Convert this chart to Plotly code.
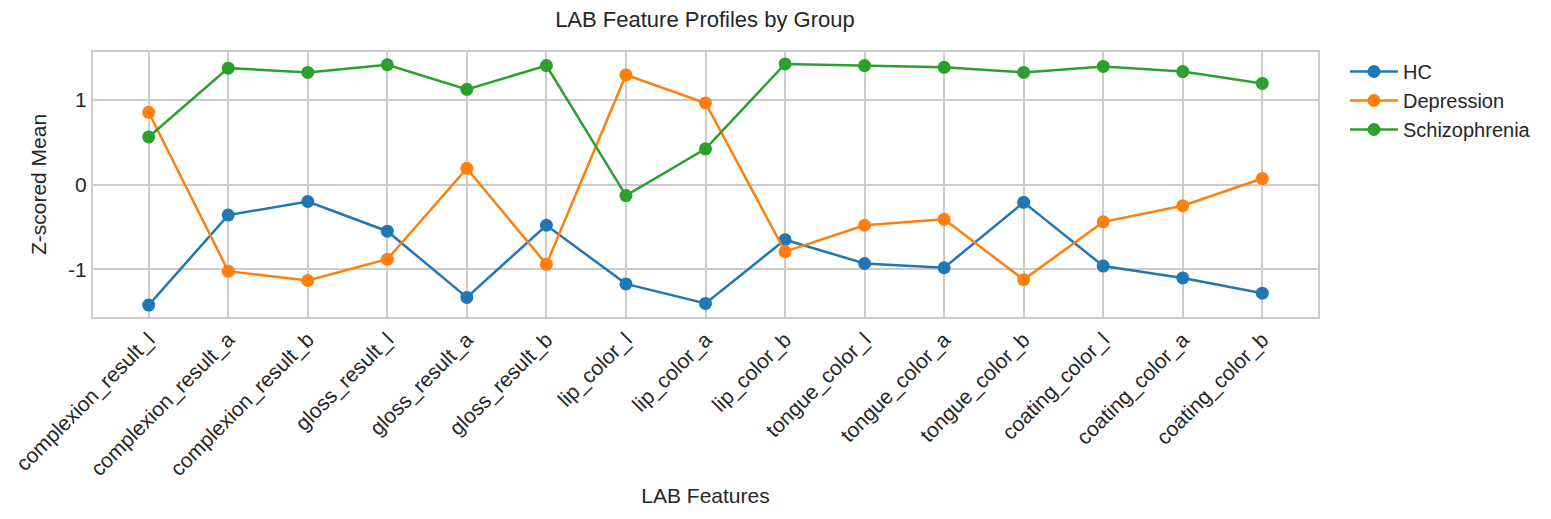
import plotly.graph_objects as go

# --- data ---
features = ['complexion_result_l', 'complexion_result_a', 'complexion_result_b',
            'gloss_result_l', 'gloss_result_a', 'gloss_result_b',
            'lip_color_l', 'lip_color_a', 'lip_color_b',
            'tongue_color_l', 'tongue_color_a', 'tongue_color_b',
            'coating_color_l', 'coating_color_a', 'coating_color_b']

hc = [-1.42, -0.36, -0.20, -0.55, -1.33, -0.48, -1.17, -1.40, -0.65,
      -0.93, -0.98, -0.21, -0.96, -1.10, -1.28]
depression = [0.85, -1.02, -1.13, -0.88, 0.19, -0.94, 1.29, 0.96, -0.79,
              -0.48, -0.41, -1.12, -0.44, -0.25, 0.07]
schizophrenia = [0.56, 1.37, 1.32, 1.41, 1.12, 1.40, -0.13, 0.42, 1.42,
                 1.40, 1.38, 1.32, 1.39, 1.33, 1.19]

groups = ['HC', 'Depression', 'Schizophrenia']
colors = ['#1f77b4', '#ff7f0e', '#2ca02c']
y_ticks = [-1, 0, 1]
y_tick_labels = ['-1', '0', '1']

FONT = 'Liberation Sans, Arial, sans-serif'
TEXT = '#262626'
GRID = '#cccccc'

fig = go.Figure()
for name, vals, col in zip(groups, [hc, depression, schizophrenia], colors):
    fig.add_trace(go.Scatter(
        x=list(range(len(features))), y=vals, name=name, mode='lines+markers',
        line=dict(color=col, width=2.5),
        marker=dict(color=col, size=13),
    ))

axis_style = dict(showline=True, linewidth=2, linecolor=GRID, mirror=True,
                  showgrid=True, gridwidth=1.5, gridcolor=GRID, zeroline=False,
                  ticks='', tickfont=dict(size=21, color=TEXT))

fig.update_layout(
    width=1551, height=519,
    paper_bgcolor='white', plot_bgcolor='white',
    font=dict(family=FONT, color=TEXT),
    margin=dict(l=93, r=233, t=52, b=202),
    title=dict(text='LAB Feature Profiles by Group', x=0.4545, xanchor='center',
               y=0.962, yanchor='middle', font=dict(size=22, color=TEXT)),
    xaxis=dict(axis_style, tickmode='array', tickvals=list(range(len(features))),
               ticktext=features, tickangle=-45, range=[-0.7, 14.7], automargin=False,
               title=dict(text='LAB Features', font=dict(size=21, color=TEXT), standoff=8)),
    yaxis=dict(axis_style, tickmode='array', tickvals=y_ticks, ticktext=y_tick_labels,
               range=[-1.56, 1.56], automargin=False,
               title=dict(text='Z-scored Mean', font=dict(size=21, color=TEXT), standoff=16)),
    legend=dict(x=1.022, y=1.0, xanchor='left', yanchor='top',
                font=dict(size=20, color=TEXT), bgcolor='rgba(0,0,0,0)',
                itemwidth=48, tracegroupgap=4),
    showlegend=True,
)

# drop the default 8px body margin so the figure sits flush in the window
fig.write_html('out.html', config={'displayModeBar': False},
               post_script="document.body.style.margin='0';")
